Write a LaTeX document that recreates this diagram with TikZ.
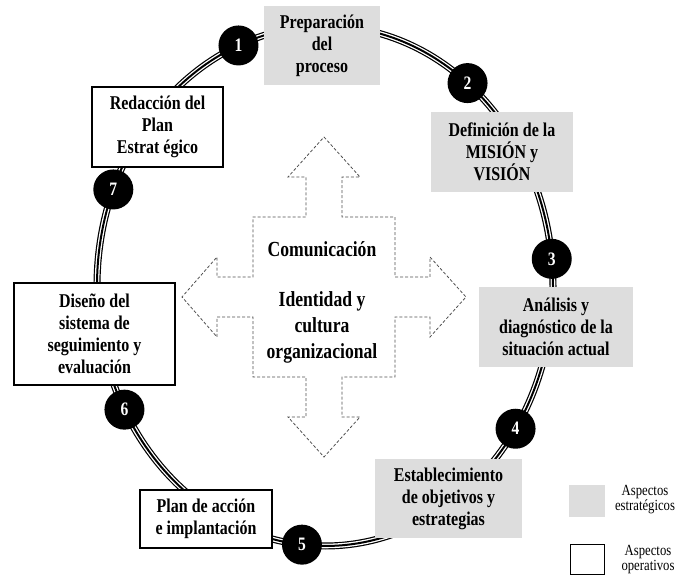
\documentclass[tikz,border=0pt]{standalone}
\usepackage{fontspec}
\setmainfont{Liberation Serif}[FakeStretch=0.82]
\definecolor{boxgray}{RGB}{221,221,221}
\definecolor{dashgray}{RGB}{80,80,80}
\begin{document}
\begin{tikzpicture}[x=1pt,y=-1pt,
  boxtext/.style={align=center, inner sep=0pt, font=\bfseries\fontsize{19.5}{22}\selectfont},
  gbox/.style={boxtext, fill=boxgray},
  wbox/.style={boxtext, draw=black, fill=white, line width=1.1pt},
  num/.style={circle, fill=black, minimum size=40pt, inner sep=0pt, text=white,
              font=\bfseries\fontsize{19}{19}\selectfont},
  ctext/.style={align=center, inner sep=0pt, font=\bfseries\fontsize{21.5}{26}\selectfont},
  legtext/.style={align=center, inner sep=0pt, font=\fontsize{15.5}{15}\selectfont},
  arrowline/.style={draw=dashgray, line width=0.8pt, dash pattern=on 3pt off 2pt},
  ringpath/.style={line width=#1},
]
\useasboundingbox (0,0) rectangle (681,585);

% ring (triple line)
\coordinate (c) at (325,286);
\draw[line width=7pt, black] (c) ellipse [x radius=228pt, y radius=260pt];
\draw[line width=4.6pt, white] (c) ellipse [x radius=228pt, y radius=260pt];
\draw[line width=2pt, black] (c) ellipse [x radius=228pt, y radius=260pt];

% central four-way arrow
\draw[arrowline] (324,137) -- (360,177) -- (342,177) -- (342,217) -- (395,217)
  -- (395,277) -- (430,277) -- (430,257) -- (466,297) -- (430,337) -- (430,317)
  -- (395,317) -- (395,377) -- (342,377) -- (342,417) -- (360,417) -- (324,457)
  -- (288,417) -- (306,417) -- (306,377) -- (253,377) -- (253,317) -- (217,317)
  -- (217,337) -- (182,297) -- (217,257) -- (217,277) -- (253,277) -- (253,217)
  -- (306,217) -- (306,177) -- (288,177) -- cycle;
\node[ctext] (com) at (322,249) {Comunicación};
\node[ctext] (ident) at (322,327) {Identidad y\\cultura\\organizacional};

% boxes
\node[gbox, minimum width=116pt, minimum height=79pt] (b1) at (322,45.5) {Preparación\\del\\proceso};
\node[gbox, minimum width=142pt, minimum height=80pt] (b2) at (502,152) {Definición de la\\MISIÓN y\\VISIÓN};
\node[gbox, minimum width=154pt, minimum height=80pt] (b3) at (556,327) {Análisis y\\diagnóstico de la\\situación actual};
\node[gbox, minimum width=147pt, minimum height=79pt] (b4) at (448.5,498.5) {Establecimiento\\de objetivos y\\estrategias};
\node[wbox, minimum width=132pt, minimum height=58pt] (b5) at (206,519) {Plan de acción\\e implantación};
\node[wbox, minimum width=161pt, minimum height=102pt] (b6) at (94.5,334) {Diseño del\\sistema de\\seguimiento y\\evaluación};
\node[wbox, minimum width=131pt, minimum height=80pt] (b7) at (157.5,127) {Redacción del\\Plan\\Estrat égico};

% numbers on the ring
\path (c) ++(247.7:228 and 260) node[num] (n1) {1};
\path (c) ++(308.7:228 and 260) node[num] (n2) {2};
\path (c) ++(354:228 and 260) node[num] (n3) {3};
\path (c) ++(33.3:228 and 260) node[num] (n4) {4};
\path (c) ++(95.8:228 and 260) node[num] (n5) {5};
\path (c) ++(151.6:228 and 260) node[num] (n6) {6};
\path (c) ++(201.8:228 and 260) node[num] (n7) {7};

% legend
\node[fill=boxgray, minimum width=36pt, minimum height=32pt, inner sep=0pt] (lg) at (587,501) {};
\node[draw=black, line width=1pt, minimum width=34pt, minimum height=30pt, inner sep=0pt] (lw) at (587,560) {};
\node[legtext] (lgt) at (645,500) {Aspectos\\estratégicos};
\node[legtext] (lwt) at (648,560) {Aspectos\\operativos};
\end{tikzpicture}
\end{document}
